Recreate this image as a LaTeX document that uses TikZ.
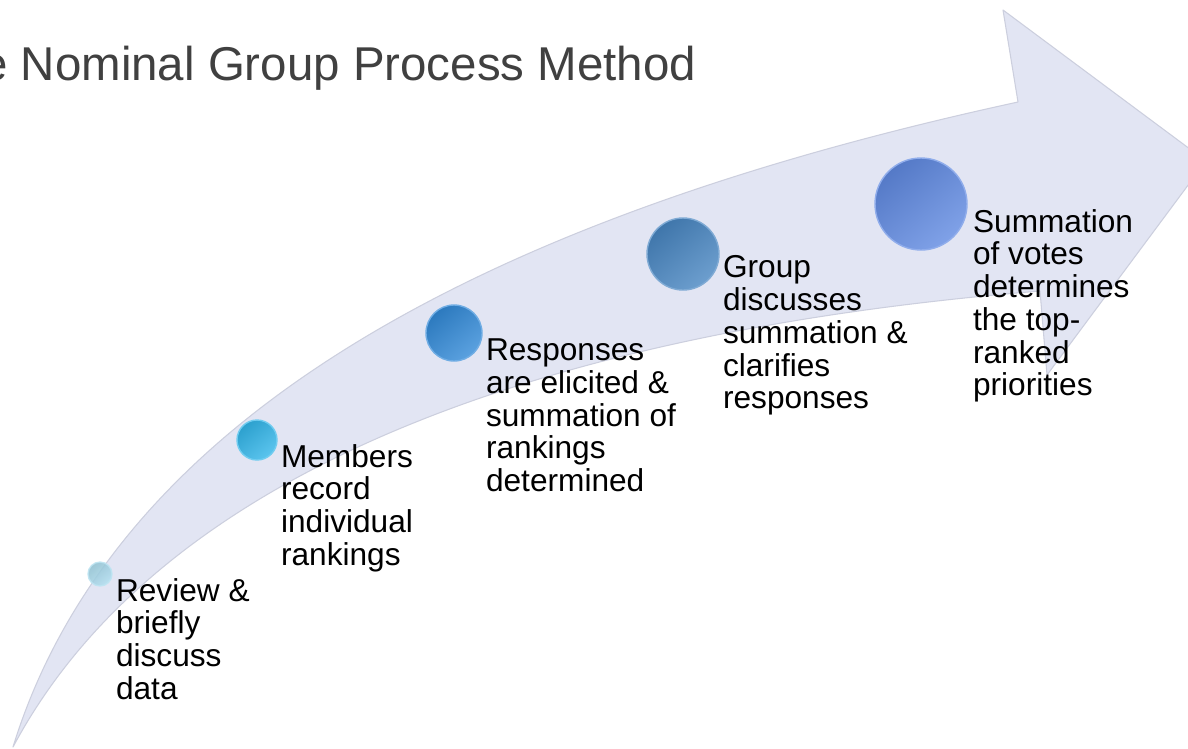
\documentclass[tikz,border=0pt]{standalone}
\usepackage{fontspec}
\setmainfont{Liberation Sans}
\usepackage{xcolor}
\usetikzlibrary{positioning}
\definecolor{titlegray}{RGB}{64,64,64}
\definecolor{bandfill}{RGB}{226,229,243}
\definecolor{bandedge}{RGB}{204,207,222}
\definecolor{dotA}{RGB}{160,216,236}
\definecolor{dotB}{RGB}{50,182,234}
\definecolor{dotC}{RGB}{50,138,216}
\definecolor{dotD}{RGB}{72,134,194}
\definecolor{dotE}{RGB}{96,138,226}
\tikzstyle{stepdot}=[circle, inner sep=0pt, minimum size=#1]
\tikzstyle{steptext}=[anchor=north west, inner sep=0pt, align=left,
  font=\fontsize{18}{18.6}\selectfont, text=black]
\tikzset{dotcol/.style={top color=#1!88!black, middle color=#1,
  bottom color=#1!80!white, shading angle=40, draw=#1!70!white, line width=0.8pt}}

\begin{document}
\begin{tikzpicture}[x=0.2mm, y=-0.2mm]
    \fill[white] (0,0) rectangle (1188,748);
    \useasboundingbox (0,0) rectangle (1188,748);
    % curved arrow band
    \filldraw[fill=bandfill, draw=bandedge, line width=0.6pt, line join=round]
      (13,747) .. controls (120,400) and (520,210) .. (1018,102)
      -- (1003,10) -- (1206,161) -- (1047,375) -- (1040,291)
      .. controls (500,335) and (150,490) .. (13,747) -- cycle;
    \node[anchor=base west, inner sep=0pt, text=titlegray,
      font=\fontsize{27}{30}\selectfont] (title) at (-19,80)
      {e Nominal Group Process Method};
    % steps
    \node[stepdot=4.8mm, dotcol=dotA, opacity=0.85] (c1) at (100,574) {};
    \node[stepdot=8mm, dotcol=dotB] (c2) at (257,440) {};
    \node[stepdot=11.2mm, dotcol=dotC] (c3) at (454,333) {};
    \node[stepdot=14.4mm, dotcol=dotD] (c4) at (683,254) {};
    \node[stepdot=18.4mm, dotcol=dotE] (c5) at (921,204) {};
    \node[steptext, below right=0.8mm and 0.6mm of c1.east] (t1)
      {Review \&\\briefly\\discuss\\data};
    \node[steptext, below right=0.8mm and 0.6mm of c2.east] (t2)
      {Members\\record\\individual\\rankings};
    \node[steptext, below right=1.1mm and 0.6mm of c3.east] (t3)
      {Responses\\are elicited \&\\summation of\\rankings\\determined};
    \node[steptext, below right=0.3mm and 0.6mm of c4.east] (t4)
      {Group\\discusses\\summation \&\\clarifies\\responses};
    \node[steptext, below right=1mm and 1mm of c5.east] (t5)
      {Summation\\of votes\\determines\\the top-\\ranked\\priorities};
  \end{tikzpicture}
\end{document}
